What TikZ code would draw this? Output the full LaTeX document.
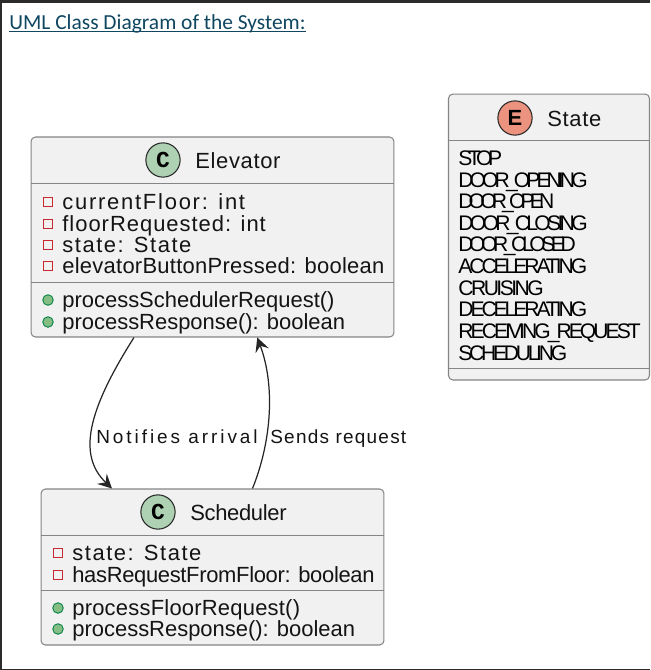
\documentclass[tikz,border=0pt]{standalone}
\usepackage{xcolor}
\usepackage{fontspec}
\setmainfont{Liberation Sans}
\newfontfamily\titlefont{Carlito}
\newfontfamily\badgemono[BoldFont={Liberation Mono Bold}]{Liberation Mono}
\usetikzlibrary{arrows.meta, positioning}
\definecolor{headingblue}{HTML}{0F4761}
\definecolor{boxfill}{HTML}{F1F1F1}
\definecolor{boxline}{HTML}{858585}
\definecolor{classgreen}{HTML}{ADD1B2}
\definecolor{enumred}{HTML}{EB937F}
\definecolor{privatered}{HTML}{C82930}
\definecolor{publicgreen}{HTML}{84BE84}
\definecolor{publicline}{HTML}{038048}
\definecolor{windowbar}{HTML}{2B2B2B}
\newcommand{\spaced}[2]{{\addfontfeature{LetterSpace=#1}#2}}
\tikzset{
  classbox/.style={draw=boxline, fill=boxfill, rounded corners=2.5pt, line width=0.6pt, inner sep=0pt},
  sepline/.style={draw=boxline, line width=0.5pt},
  badge/.style={circle, draw=black!85, line width=0.6pt, minimum size=19.5pt, inner sep=0pt, text=black},
  classname/.style={anchor=base west, inner sep=0pt, font=\fontsize{12.5pt}{14pt}\selectfont, text=black!92},
  member/.style={anchor=base west, inner sep=0pt, font=\fontsize{12.5pt}{14pt}\selectfont, text=black!92},
  literal/.style={anchor=base west, inner sep=0pt, font=\fontsize{12pt}{14pt}\selectfont, text=black},
  linklabel/.style={anchor=base west, inner sep=0pt, font=\fontsize{10.8pt}{13pt}\selectfont, text=black!92},
  privatemark/.style={rectangle, draw=privatered, fill=boxfill, line width=0.6pt, minimum size=5.5pt, inner sep=0pt},
  publicmark/.style={circle, draw=publicline, fill=publicgreen, line width=0.5pt, minimum size=6pt, inner sep=0pt},
  linkarrow/.style={draw=black!85, line width=0.7pt, -{Stealth[length=8pt, width=8pt, inset=3pt]}}
}
\begin{document}
\begin{tikzpicture}[x=0.02cm, y=-0.02cm]
  \useasboundingbox (0,0) rectangle (650,670);
  \fill[white] (0,0) rectangle (650,670);
  % Window edges
  \fill[windowbar] (0,0) rectangle (650,3);
  \fill[windowbar] (0,0) rectangle (2,670);
  \fill[windowbar] (0,668.5) rectangle (650,670);
  \node[anchor=base west, inner sep=0pt, text=headingblue, font=\titlefont\fontsize{12.2pt}{14pt}\selectfont] (heading) at (9,29) {\underline{\smash{UML Class Diagram of the System:}}};

  % Class boxes
  \node[classbox, minimum width=7.26cm, minimum height=4cm] (elevator) at (212.5,237) {};
  \node[classbox, minimum width=6.86cm, minimum height=3.12cm] (scheduler) at (212.5,567) {};
  \node[classbox, minimum width=4.02cm, minimum height=5.72cm] (state) at (549,237) {};

  % Compartment lines
  \foreach \boxname/\liney in {elevator/183, elevator/282, scheduler/535, scheduler/590, state/140, state/368}
    \draw[sepline] (\boxname.west |- 0,\liney) -- (\boxname.east |- 0,\liney);

  % Headers
  \node[badge, fill=classgreen, font=\badgemono\bfseries\fontsize{13pt}{14pt}\selectfont] (elevatorBadge) at (163,160) {C};
  \node[classname] (elevatorName) at (195,168) {\spaced{3}{Elevator}};
  \node[badge, fill=classgreen, font=\badgemono\bfseries\fontsize{13pt}{14pt}\selectfont] (schedulerBadge) at (158,512) {C};
  \node[classname] (schedulerName) at (190,520) {\spaced{-1.5}{Scheduler}};
  \node[badge, fill=enumred, font=\bfseries\fontsize{12.5pt}{14pt}\selectfont] (stateBadge) at (515,118) {E};
  \node[classname] (stateName) at (547,126) {\spaced{3}{State}};

  % Elevator members
  \foreach \rowy/\track/\rowtext [count=\i] in {
      209/8/currentFloor: int, 231/4.5/floorRequested: int, 252/7/state: State,
      273/1.2/elevatorButtonPressed: boolean} {
    \node[privatemark] (elevatorAttr\i) at (48,\rowy-7) {};
    \node[member] (elevatorAttrText\i) at (62,\rowy) {\spaced{\track}{\rowtext}};
  }
  \foreach \rowy/\rowtext [count=\i] in {307/processSchedulerRequest(), 329/processResponse(): boolean} {
    \node[publicmark] (elevatorOp\i) at (48,\rowy-7) {};
    \node[member] (elevatorOpText\i) at (62,\rowy) {\rowtext};
  }

  % Scheduler members
  \foreach \rowy/\track/\rowtext [count=\i] in {560/7/state: State, 582/-1.5/hasRequestFromFloor: boolean} {
    \node[privatemark] (schedulerAttr\i) at (58,\rowy-7) {};
    \node[member] (schedulerAttrText\i) at (72,\rowy) {\spaced{\track}{\rowtext}};
  }
  \foreach \rowy/\track/\rowtext [count=\i] in {615/1/processFloorRequest(), 636/0/processResponse(): boolean} {
    \node[publicmark] (schedulerOp\i) at (58,\rowy-7) {};
    \node[member] (schedulerOpText\i) at (72,\rowy) {\spaced{\track}{\rowtext}};
  }

  % State literals
  \foreach \rowy/\track/\rowtext [count=\i] in {
      165/-21/STOP, 187/-18.5/DOOR\_OPENING, 208/-23/DOOR\_OPEN, 230/-17.5/DOOR\_CLOSING,
      251/-21/DOOR\_CLOSED, 273/-14.5/ACCELERATING, 295/-12/CRUISING, 316/-14.5/DECELERATING,
      338/-14/RECEIVING\_REQUEST, 360/-15.5/SCHEDULING}
    \node[literal] (literal\i) at (458,\rowy) {\spaced{\track}{\rowtext}};

  % Links
  \draw[linkarrow] (elevator.232.2) .. controls (88,410) and (77,455) .. (scheduler.142.7);
  \draw[linkarrow] (scheduler.63.1) .. controls (272,440) and (275,385) .. (elevator.-66);
  \node[linklabel] (arrivalLabel) at (96,443) {\spaced{15.5}{Notifies arrival}};
  \node[linklabel] (requestLabel) at (270,443) {\spaced{6.5}{Sends request}};
\end{tikzpicture}
\end{document}
